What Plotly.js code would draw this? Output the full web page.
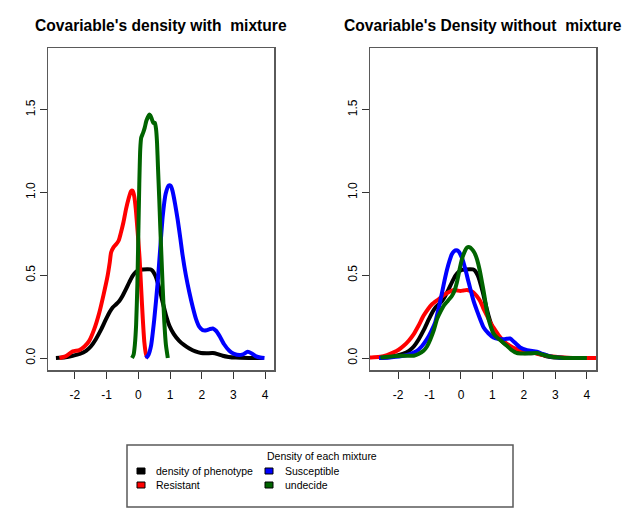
<!DOCTYPE html>
<html>
<head>
<meta charset="utf-8">
<script src="https://cdn.plot.ly/plotly-3.0.1.min.js"></script>
<style>html,body{margin:0;padding:0;background:#fff;}#chart{width:644px;height:524px;}</style>
</head>
<body>
<div id="chart"></div>
<script>
// ---------- data ----------
const seriesNames = ["density of phenotype", "Resistant", "Susceptible", "undecide"];
const seriesColors = ["#000000", "#ff0000", "#0000ff", "#006400"];
const panelTitles = ["Covariable's density with\u00A0 mixture", "Covariable's Density without\u00A0 mixture"];
const legendTitle = "Density of each mixture";
const xTicks = [-2, -1, 0, 1, 2, 3, 4];
const yTicks = [0, 0.5, 1.0, 1.5];
const yTickLabels = ["0.0", "0.5", "1.0", "1.5"];

// phenotype density (same in both panels)
const phenoX = [-2.6, -2.3, -2.07, -1.85, -1.65, -1.5, -1.34, -1.18, -1.02, -0.9, -0.81, -0.7, -0.6, -0.5, -0.39, -0.28, -0.18, -0.08, 0.03, 0.15, 0.29, 0.38, 0.45, 0.53, 0.61, 0.69, 0.77, 0.87, 0.98, 1.12, 1.29, 1.45, 1.61, 1.8, 1.98, 2.15, 2.35, 2.5, 2.66, 2.85, 3.08, 3.5, 3.93];
const phenoY = [0, 0.005, 0.014, 0.025, 0.044, 0.07, 0.114, 0.17, 0.235, 0.28, 0.305, 0.325, 0.345, 0.375, 0.416, 0.46, 0.496, 0.52, 0.532, 0.535, 0.536, 0.535, 0.526, 0.5, 0.456, 0.4, 0.335, 0.26, 0.195, 0.145, 0.104, 0.078, 0.058, 0.04, 0.030, 0.029, 0.030, 0.024, 0.014, 0.007, 0.003, 0.001, 0];

// with mixture (left panel)
const resMixX = [-2.49, -2.3, -2.07, -1.86, -1.7, -1.55, -1.4, -1.23, -1.1, -0.97, -0.9, -0.86, -0.78, -0.7, -0.62, -0.55, -0.47, -0.39, -0.31, -0.23, -0.18, -0.13, -0.08, -0.02, 0.04, 0.09, 0.14, 0.19, 0.24, 0.29];
const resMixY = [0, 0.01, 0.04, 0.048, 0.07, 0.104, 0.17, 0.275, 0.38, 0.496, 0.58, 0.637, 0.67, 0.687, 0.71, 0.757, 0.82, 0.898, 0.96, 1.008, 1.01, 0.978, 0.9, 0.757, 0.6, 0.416, 0.24, 0.095, 0.025, 0];
const susMixX = [0.24, 0.32, 0.40, 0.5, 0.61, 0.69, 0.77, 0.86, 0.96, 1.02, 1.08, 1.16, 1.24, 1.32, 1.40, 1.5, 1.61, 1.72, 1.82, 1.92, 2.03, 2.15, 2.25, 2.35, 2.45, 2.56, 2.7, 2.87, 3.02, 3.19, 3.3, 3.45, 3.58, 3.72, 3.85, 3.98];
const susMixY = [0, 0.02, 0.074, 0.23, 0.456, 0.66, 0.857, 0.99, 1.042, 1.04, 1.008, 0.93, 0.837, 0.73, 0.616, 0.5, 0.396, 0.305, 0.235, 0.19, 0.169, 0.168, 0.175, 0.179, 0.165, 0.134, 0.085, 0.044, 0.025, 0.018, 0.022, 0.038, 0.028, 0.01, 0.003, 0];
const undMixX = [-0.2, -0.15, -0.11, -0.07, -0.03, 0.0, 0.03, 0.06, 0.09, 0.15, 0.2, 0.25, 0.29, 0.34, 0.38, 0.43, 0.47, 0.52, 0.56, 0.59, 0.62, 0.66, 0.69, 0.72, 0.77, 0.82, 0.87, 0.93];
const undMixY = [0, 0.02, 0.08, 0.2, 0.45, 0.75, 1.05, 1.26, 1.33, 1.36, 1.39, 1.43, 1.45, 1.47, 1.465, 1.44, 1.42, 1.42, 1.38, 1.3, 1.15, 0.96, 0.8, 0.657, 0.42, 0.215, 0.08, 0];

// without mixture (right panel)
const resNoX = [-3.0, -2.87, -2.56, -2.35, -2.14, -1.98, -1.82, -1.66, -1.50, -1.35, -1.19, -1.05, -0.92, -0.71, -0.50, -0.35, -0.23, -0.12, -0.02, 0.08, 0.19, 0.30, 0.40, 0.5, 0.61, 0.71, 0.83, 0.93, 1.03, 1.19, 1.35, 1.55, 1.78, 2.0, 2.2, 2.45, 2.73, 3.0, 3.26, 3.7, 4.2, 4.4];
const resNoY = [0.001, 0.004, 0.008, 0.018, 0.034, 0.05, 0.074, 0.105, 0.145, 0.195, 0.255, 0.295, 0.325, 0.355, 0.386, 0.402, 0.411, 0.408, 0.405, 0.408, 0.411, 0.405, 0.396, 0.375, 0.345, 0.3, 0.255, 0.215, 0.185, 0.14, 0.104, 0.075, 0.054, 0.045, 0.038, 0.025, 0.014, 0.008, 0.004, 0.001, 0, 0];
const susNoX = [-2.6, -2.2, -1.82, -1.6, -1.40, -1.25, -1.08, -0.95, -0.82, -0.71, -0.60, -0.52, -0.44, -0.36, -0.29, -0.22, -0.15, -0.08, -0.02, 0.06, 0.14, 0.22, 0.30, 0.4, 0.51, 0.61, 0.72, 0.87, 1.03, 1.2, 1.35, 1.45, 1.56, 1.7, 1.88, 2.1, 2.41, 2.6, 2.83, 3.15, 3.5, 3.9];
const susNoY = [0, 0.005, 0.014, 0.026, 0.044, 0.07, 0.114, 0.16, 0.215, 0.3, 0.396, 0.47, 0.536, 0.59, 0.627, 0.645, 0.651, 0.645, 0.627, 0.59, 0.536, 0.475, 0.416, 0.345, 0.285, 0.235, 0.185, 0.15, 0.125, 0.115, 0.114, 0.116, 0.118, 0.095, 0.064, 0.048, 0.038, 0.025, 0.010, 0.002, 0, 0];
const undNoX = [-2.56, -2.2, -1.93, -1.7, -1.50, -1.35, -1.19, -1.08, -0.97, -0.86, -0.76, -0.65, -0.55, -0.42, -0.29, -0.2, -0.13, -0.05, 0.03, 0.11, 0.19, 0.27, 0.35, 0.43, 0.51, 0.59, 0.67, 0.75, 0.83, 0.93, 1.03, 1.14, 1.3, 1.46, 1.6, 1.78, 2.0, 2.2, 2.41, 2.6, 2.83, 3.1, 3.47, 4.0];
const undNoY = [0.004, 0.01, 0.014, 0.014, 0.014, 0.025, 0.044, 0.07, 0.114, 0.17, 0.235, 0.28, 0.315, 0.345, 0.375, 0.41, 0.456, 0.53, 0.596, 0.64, 0.667, 0.67, 0.657, 0.635, 0.596, 0.535, 0.456, 0.37, 0.275, 0.2, 0.15, 0.125, 0.1, 0.074, 0.05, 0.03, 0.028, 0.029, 0.03, 0.02, 0.010, 0.004, 0, 0];

// ---------- layout helpers ----------
const W = 644, H = 524;
const FONT = "Liberation Sans, Arial, Helvetica, sans-serif";
const px = v => v / W;
const py = v => 1 - v / H;
const boxColor = "#5a5a5a";

function mk(x, y, i, xa, ya) {
  return {x: x, y: y, type: "scatter", mode: "lines", xaxis: xa, yaxis: ya,
    line: {color: seriesColors[i], width: 4, shape: "spline", smoothing: 0.6},
    name: seriesNames[i], showlegend: false, hoverinfo: "skip"};
}

const traces = [
  mk(phenoX, phenoY, 0, "x", "y"),
  mk(resMixX, resMixY, 1, "x", "y"),
  mk(susMixX, susMixY, 2, "x", "y"),
  mk(undMixX, undMixY, 3, "x", "y"),
  mk(phenoX, phenoY, 0, "x2", "y2"),
  mk(resNoX, resNoY, 1, "x2", "y2"),
  mk(susNoX, susNoY, 2, "x2", "y2"),
  mk(undNoX, undNoY, 3, "x2", "y2")
];

function xax(domain, range, anchor) {
  return {domain: domain, range: range, anchor: anchor, tickmode: "array", tickvals: xTicks,
    ticktext: xTicks.map(String), ticks: "outside", ticklen: 7, tickwidth: 1, tickcolor: "#333",
    ticklabelstandoff: 6,
    showline: true, mirror: true, linecolor: boxColor, linewidth: 1.5,
    showgrid: false, zeroline: false, fixedrange: true,
    tickfont: {family: FONT, size: 12, color: "#000"}};
}
function yax(domain, anchor) {
  return {domain: domain, range: [-0.072, 1.872], anchor: anchor, tickmode: "array", tickvals: yTicks,
    ticktext: yTickLabels, tickangle: -90, ticks: "outside", ticklen: 7, tickwidth: 1, tickcolor: "#333",
    showline: true, mirror: true, linecolor: boxColor, linewidth: 1.5,
    showgrid: false, zeroline: false, fixedrange: true,
    tickfont: {family: FONT, size: 12, color: "#000"}};
}

const yDom = [py(370), py(48)];
const annotations = [
  {text: "<b>" + panelTitles[0] + "</b>", xref: "paper", yref: "paper", x: px(161), y: py(25),
   xanchor: "center", yanchor: "middle", showarrow: false, font: {family: FONT, size: 15.6, color: "#000"}},
  {text: "<b>" + panelTitles[1] + "</b>", xref: "paper", yref: "paper", x: px(483), y: py(25),
   xanchor: "center", yanchor: "middle", showarrow: false, font: {family: FONT, size: 15.6, color: "#000"}},
  {text: legendTitle, xref: "paper", yref: "paper", x: px(322), y: py(455.5),
   xanchor: "center", yanchor: "middle", showarrow: false, font: {family: FONT, size: 10.5, color: "#000"}}
];
const shapes = [
  {type: "rect", xref: "paper", yref: "paper", x0: px(127), x1: px(513), y0: py(445), y1: py(507),
   line: {color: boxColor, width: 1.5}, fillcolor: "rgba(0,0,0,0)"}
];
// legend entries: column-wise fill (2 rows)
const colSq = [137, 265], colTx = [154, 283], rowY = [471, 485];
seriesNames.forEach((nm, i) => {
  const c = Math.floor(i / 2), r = i % 2;
  shapes.push({type: "rect", xref: "paper", yref: "paper",
    x0: px(colSq[c]), x1: px(colSq[c] + 8), y0: py(rowY[r] + 3), y1: py(rowY[r] - 3),
    fillcolor: seriesColors[i], line: {color: "#000", width: 1}});
  annotations.push({text: nm, xref: "paper", yref: "paper", x: px(colTx[c]), y: py(rowY[r]),
    xanchor: "left", yanchor: "middle", showarrow: false, font: {family: FONT, size: 10.5, color: "#000"}});
});

const layout = {
  width: W, height: H, margin: {l: 0, r: 0, t: 0, b: 0}, paper_bgcolor: "#fff", plot_bgcolor: "#fff",
  showlegend: false,
  xaxis: xax([px(48), px(274)], [-2.85, 4.28], "y"),
  yaxis: yax(yDom, "x"),
  xaxis2: xax([px(370), px(596)], [-2.89, 4.29], "y2"),
  yaxis2: yax(yDom, "x2"),
  annotations: annotations, shapes: shapes
};

Plotly.newPlot("chart", traces, layout, {staticPlot: true, displayModeBar: false});
</script>
</body>
</html>
